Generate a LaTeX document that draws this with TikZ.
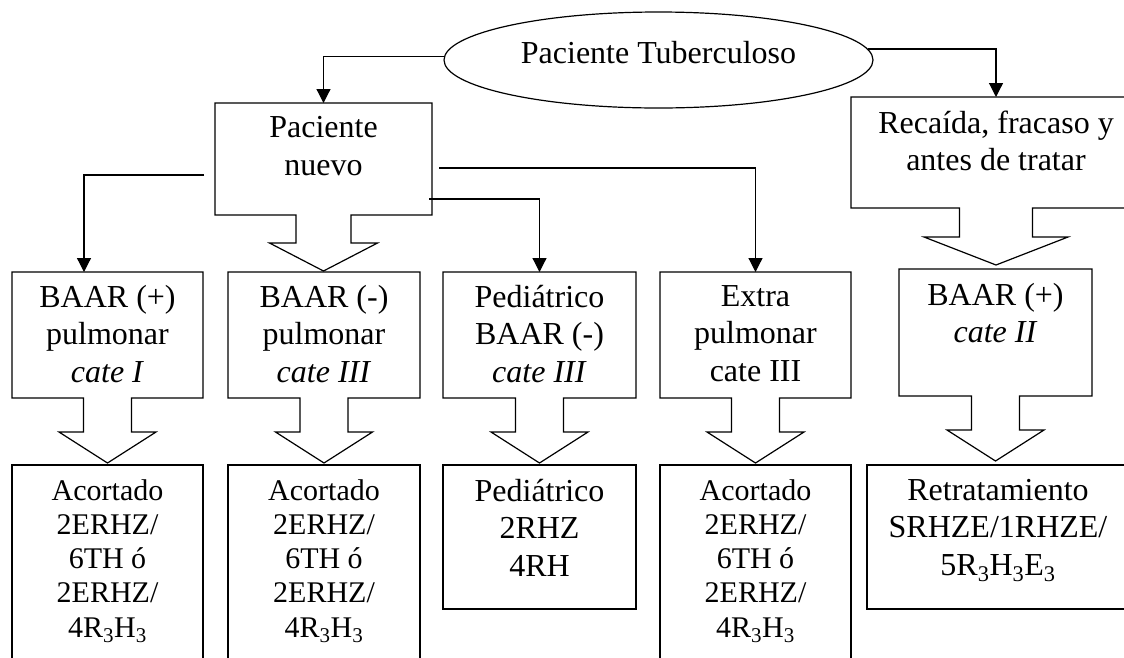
\documentclass[tikz,border=0pt]{standalone}
\usepackage{fontspec}
\setmainfont{Liberation Serif}
\usetikzlibrary{arrows.meta,calc,shapes.geometric}
\tikzset{
  ln/.style={line width=1.2pt, line join=miter},
  bx/.style={rectangle, draw, line width=1.2pt, inner sep=0pt, outer sep=0pt},
  shell/.style={rectangle, inner sep=0pt, outer sep=0pt},
  txt/.style={anchor=north, align=center, inner sep=0pt, font=\fontsize{32}{37.5}\selectfont, execute at begin node=\strut},
  smalltxt/.style={txt, font=\fontsize{30}{34.25}\selectfont},
  arr/.style={line width=1.2pt, -{Triangle[length=14pt,width=14pt]}},
}
% name, stem half width, head half width, stem length, head length
\newcommand\calloutbox[5]{%
  \draw[ln] (#1.north west) -- (#1.north east) -- (#1.south east)
    -- ($(#1.south)+(#2,0)$) -- ($(#1.south)+(#2,#4)$) -- ($(#1.south)+(#3,#4)$)
    -- ($(#1.south)+(0,#4+#5)$) -- ($(#1.south)+(-#3,#4)$) -- ($(#1.south)+(-#2,#4)$)
    -- ($(#1.south)+(-#2,0)$) -- (#1.south west) -- cycle;}
\begin{document}
\begin{tikzpicture}[x=1pt,y=-1pt]
\useasboundingbox (0,0) rectangle (1124,657);
\clip (0,0) rectangle (1124,657);

% top ellipse
\node[ellipse, draw, line width=1.2pt, minimum width=429pt, minimum height=96pt, inner sep=0pt,
      font=\fontsize{32}{37.5}\selectfont, text height=22pt, text depth=16pt] (tb) at (658.5,60) {Paciente Tuberculoso};

% level 1 callout boxes
\node[shell, minimum width=217pt, minimum height=112pt] (nuevo) at (323.5,159) {};
\calloutbox{nuevo}{27.5}{54}{28}{28}
\node[txt] (nuevot) at ($(nuevo.north)+(0,13.5)$) {Paciente\\nuevo};

\node[shell, minimum width=290pt, minimum height=111pt] (rec) at (996,152.5) {};
\calloutbox{rec}{36.5}{72}{29}{28}
\node[txt] (rect) at ($(rec.north)+(0,13.5)$) {Recaída, fracaso y\\antes de tratar};

% level 2 callout boxes
\node[shell, minimum width=191pt, minimum height=126pt] (b1) at (107.5,335) {};
\node[shell, minimum width=192pt, minimum height=126pt] (b2) at (324,335) {};
\node[shell, minimum width=193pt, minimum height=126pt] (b3) at (539.5,335) {};
\node[shell, minimum width=191pt, minimum height=126pt] (b4) at (755.5,335) {};
\node[shell, minimum width=193pt, minimum height=127pt] (b5) at (995.5,332.5) {};
\calloutbox{b1}{24}{48.5}{34}{31}
\calloutbox{b2}{24}{48.5}{34}{31}
\calloutbox{b3}{24}{48.5}{34}{31}
\calloutbox{b4}{24}{48.5}{34}{31}
\calloutbox{b5}{24}{48.5}{34}{31}
\node[txt] (b1t) at ($(b1.north)+(0,13)$) {BAAR (+)\\pulmonar\\\textit{cate I}};
\node[txt] (b2t) at ($(b2.north)+(0,13)$) {BAAR (-)\\pulmonar\\\textit{cate III}};
\node[txt] (b3t) at ($(b3.north)+(0,13)$) {Pediátrico\\BAAR (-)\\\textit{cate III}};
\node[txt] (b4t) at ($(b4.north)+(0,13)$) {Extra\\pulmonar\\cate III};
\node[txt] (b5t) at ($(b5.north)+(0,14)$) {BAAR (+)\\\textit{cate II}};

% level 3 boxes
\node[bx, minimum width=191pt, minimum height=235pt] (r1) at (107.5,582.5) {};
\node[bx, minimum width=192pt, minimum height=235pt] (r2) at (324,582.5) {};
\node[bx, minimum width=193pt, minimum height=144pt] (r3) at (539.5,537) {};
\node[bx, minimum width=191pt, minimum height=235pt] (r4) at (755.5,582.5) {};
\node[bx, minimum width=268pt, minimum height=144pt] (r5) at (1001,537) {};
\node[smalltxt] (r1t) at ($(r1.north)+(0,14)$) {Acortado\\2ERHZ/\\6TH ó\\2ERHZ/\\4R\textsubscript{3}H\textsubscript{3}};
\node[smalltxt] (r2t) at ($(r2.north)+(0,14)$) {Acortado\\2ERHZ/\\6TH ó\\2ERHZ/\\4R\textsubscript{3}H\textsubscript{3}};
\node[txt] (r3t) at ($(r3.north)+(0,14)$) {Pediátrico\\2RHZ\\4RH};
\node[smalltxt] (r4t) at ($(r4.north)+(0,14)$) {Acortado\\2ERHZ/\\6TH ó\\2ERHZ/\\4R\textsubscript{3}H\textsubscript{3}};
\node[txt] (r5t) at ($(r5.north)+(-3,14)$) {Retratamiento\\SRHZE/1RHZE/\\5R\textsubscript{3}H\textsubscript{3}E\textsubscript{3}};

% connectors
\draw[arr] (tb.179) -| (nuevo.north);
\draw[arr] (tb.3) -| (rec.north);
\draw[arr] ($(nuevo.west)+(-11,16)$) -| ($(b1.north)+(-23.5,0)$);
\draw[arr] ($(nuevo.east)+(7,9)$) -| (b4.north);
\draw[arr] ($(nuevo.east)+(-3,40)$) -| (b3.north);
\end{tikzpicture}
\end{document}
